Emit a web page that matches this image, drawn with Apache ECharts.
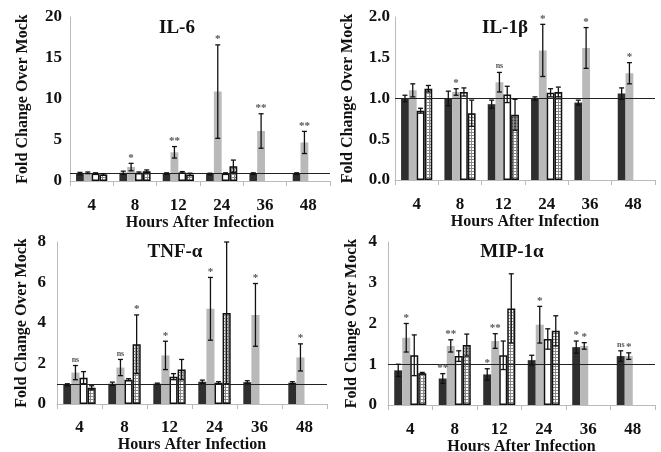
<!DOCTYPE html>
<html><head><meta charset="utf-8">
<script src="https://cdn.jsdelivr.net/npm/echarts@6/dist/echarts.min.js"></script>
<style>html,body{margin:0;padding:0;background:#fff}#c{width:661px;height:452px}</style>
</head><body><div id="c"></div>
<script>
const hours = ['4','8','12','24','36','48'];

// IL-6
const il6Black = [0.9, 1.0, 0.9, 0.85, 0.9, 0.9];
const il6BlackErr = [0.15, 0.2, 0.1, 0.1, 0.1, 0.1];
const il6Gray = [1.0, 1.7, 3.5, 10.9, 6.1, 4.7];
const il6GrayErr = [0.1, 0.45, 0.7, 5.7, 2.1, 1.35];
const il6White = [0.9, 1.0, 1.05, 0.9, null, null];
const il6WhiteErr = [0.1, 0.1, 0.1, 0.1, null, null];
const il6Hatch = [0.8, 1.2, 0.8, 1.8, null, null];
const il6HatchErr = [0.1, 0.15, 0.15, 0.75, null, null];
const il6GraySig = ['', '*', '**', '*', '**', '**'];

// IL-1beta
const il1Black = [1.0, 1.0, 0.93, 1.0, 0.95, 1.06];
const il1BlackErr = [0.04, 0.09, 0.05, 0.02, 0.03, 0.07];
const il1Gray = [1.10, 1.08, 1.20, 1.59, 1.62, 1.31];
const il1GrayErr = [0.08, 0.04, 0.12, 0.32, 0.25, 0.13];
const il1White = [0.85, 1.08, 1.05, 1.07, null, null];
const il1WhiteErr = [0.03, 0.05, 0.1, 0.05, null, null];
const il1Hatch = [1.12, 0.82, 0.80, 1.08, null, null];
const il1HatchErr = [0.04, 0.16, 0.19, 0.06, null, null];
const il1GraySig = ['', '*', 'ns', '*', '*', '*'];

// TNF-alpha
const tnfBlack = [0.95, 1.0, 1.0, 1.1, 1.08, 1.05];
const tnfBlackErr = [0.05, 0.08, 0.03, 0.08, 0.07, 0.05];
const tnfGray = [1.55, 1.8, 2.4, 4.7, 4.4, 2.3];
const tnfGrayErr = [0.35, 0.4, 0.7, 1.55, 1.55, 0.67];
const tnfWhite = [1.3, 1.2, 1.35, 1.05, null, null];
const tnfWhiteErr = [0.3, 0.05, 0.15, 0.05, null, null];
const tnfHatch = [0.8, 2.95, 1.7, 4.5, null, null];
const tnfHatchErr = [0.1, 1.45, 0.5, 3.5, null, null];
const tnfGraySig = ['ns', 'ns', '*', '*', '*', '*'];
const tnfHatchSig = ['', '*', '', '', '', ''];

// MIP-1alpha
const mipBlack = [0.85, 0.65, 0.75, 1.1, 1.42, 1.2];
const mipBlackErr = [0.15, 0.12, 0.14, 0.12, 0.15, 0.13];
const mipGray = [1.65, 1.45, 1.57, 1.97, 1.45, 1.2];
const mipGrayErr = [0.35, 0.15, 0.18, 0.45, 0.08, 0.08];
const mipWhite = [1.22, 1.2, 1.22, 1.62, null, null];
const mipWhiteErr = [0.5, 0.13, 0.35, 0.25, null, null];
const mipHatch = [0.78, 1.47, 2.37, 1.82, null, null];
const mipHatchErr = [0.02, 0.27, 0.85, 0.37, null, null];
const mipBlackSig = ['', '**', '*', '', '*', 'ns'];
const mipGraySig = ['*', '**', '**', '*', '*', '*'];

const yTicks = [
  {min: 0, max: 20, interval: 5},
  {min: 0, max: 2, interval: 0.5},
  {min: 0, max: 8, interval: 2},
  {min: 0, max: 4, interval: 1}
];

const panels = [
  {title: 'IL-6', vals: [il6Black, il6Gray, il6White, il6Hatch], errs: [il6BlackErr, il6GrayErr, il6WhiteErr, il6HatchErr], sigs: [null, il6GraySig, null, null]},
  {title: 'IL-1β', vals: [il1Black, il1Gray, il1White, il1Hatch], errs: [il1BlackErr, il1GrayErr, il1WhiteErr, il1HatchErr], sigs: [null, il1GraySig, null, null]},
  {title: 'TNF-α', vals: [tnfBlack, tnfGray, tnfWhite, tnfHatch], errs: [tnfBlackErr, tnfGrayErr, tnfWhiteErr, tnfHatchErr], sigs: [null, tnfGraySig, null, tnfHatchSig]},
  {title: 'MIP-1α', vals: [mipBlack, mipGray, mipWhite, mipHatch], errs: [mipBlackErr, mipGrayErr, mipWhiteErr, mipHatchErr], sigs: [mipBlackSig, mipGraySig, null, null]}
];

// layout
const grids = [
  {left: 70, top: 17, width: 260, height: 164, outerBoundsMode: 'none', containLabel: false},
  {left: 395, top: 17, width: 260, height: 163, outerBoundsMode: 'none', containLabel: false},
  {left: 57, top: 242, width: 270, height: 162, outerBoundsMode: 'none', containLabel: false},
  {left: 388, top: 242, width: 267, height: 163, outerBoundsMode: 'none', containLabel: false}
];
const yNameGap = [39, 39, 27, 28];
const xNameGap = [31, 32, 26, 31];
const xLabelMargin = [16, 16, 15, 16];
const yLabelMargin = [8, 5, 11, 11];
const titlePos = [[172, 25], [500, 25], [170, 249], [507, 249]];

const FONT = '"Liberation Serif", "Times New Roman", serif';
const BAR_FRAC = 0.18;

// hatch pattern
const pc = document.createElement('canvas');
pc.width = 3; pc.height = 3;
const pctx = pc.getContext('2d');
pctx.fillStyle = '#ffffff'; pctx.fillRect(0, 0, 3, 3);
pctx.fillStyle = '#8a8a8a'; pctx.fillRect(0, 0, 3, 1); pctx.fillRect(0, 0, 1, 3);

const barStyles = [
  {color: '#2e2e2e'},
  {color: '#b9b9b9'},
  {color: '#ffffff', borderColor: '#111', borderWidth: 1.5},
  {color: {image: pc, repeat: 'repeat'}, borderColor: '#111', borderWidth: 1.5}
];

const option = {
  animation: false,
  backgroundColor: '#fff',
  title: panels.map((p, i) => ({
    text: p.title, left: titlePos[i][0], top: titlePos[i][1] - 11,
    textAlign: 'center',
    textStyle: {fontFamily: FONT, fontWeight: 'bold', fontSize: 19, color: '#111'}
  })),
  grid: grids,
  xAxis: grids.map((g, i) => ({
    type: 'category', gridIndex: i, data: hours,
    name: 'Hours After Infection', nameLocation: 'middle', nameGap: xNameGap[i],
    nameTextStyle: {fontFamily: FONT, fontWeight: 'bold', fontSize: 16, color: '#111', verticalAlign: 'top'},
    axisLine: {lineStyle: {color: '#bbbbbb', width: 1}},
    axisTick: {show: true, length: 5, lineStyle: {color: '#bbbbbb'}},
    axisLabel: {fontFamily: FONT, fontWeight: 'bold', fontSize: 17, color: '#111', margin: xLabelMargin[i]}
  })),
  yAxis: grids.map((g, i) => ({
    type: 'value', gridIndex: i,
    min: yTicks[i].min, max: yTicks[i].max, interval: yTicks[i].interval,
    name: 'Fold Change Over Mock', nameLocation: 'middle', nameGap: yNameGap[i],
    nameTextStyle: {fontFamily: FONT, fontWeight: 'bold', fontSize: 16, color: '#111'},
    axisLine: {show: true, lineStyle: {color: '#bbbbbb', width: 1}},
    axisTick: {show: false},
    splitLine: {show: false},
    axisLabel: {fontFamily: FONT, fontWeight: 'bold', fontSize: 17, color: '#111', margin: yLabelMargin[i],
      formatter: i === 1 ? (v => v.toFixed(1)) : (v => String(v))}
  })),
  series: []
};

panels.forEach((p, pi) => {
  p.vals.forEach((arr, si) => {
    const s = {
      type: 'bar', xAxisIndex: pi, yAxisIndex: pi,
      data: arr, barWidth: (BAR_FRAC * 100) + '%', barGap: '0%',
      itemStyle: barStyles[si], z: 2
    };
    if (si === 0) {
      s.markLine = {
        silent: true, symbol: 'none', label: {show: false},
        lineStyle: {color: '#222', width: 1.2, type: 'solid'},
        data: [{yAxis: 1}], z: 5
      };
    }
    option.series.push(s);
  });
  const errData = [];
  p.vals.forEach((arr, si) => {
    arr.forEach((v, ci) => {
      if (v == null) return;
      const e = p.errs[si][ci];
      const sig = p.sigs[si] ? p.sigs[si][ci] : '';
      errData.push([ci, v - e, v + e, si, sig]);
    });
  });
  option.series.push({
    type: 'custom', xAxisIndex: pi, yAxisIndex: pi, z: 6,
    data: errData,
    encode: {x: 0, y: [1, 2]},
    renderItem: function (params, api) {
      const ci = api.value(0), lo = api.value(1), hi = api.value(2), si = api.value(3);
      const sig = errData[params.dataIndex][4];
      const band = api.size([1, 0])[0];
      const bw = band * BAR_FRAC;
      const cx = api.coord([ci, 0])[0] + (si - 1.5) * bw;
      const yLo = api.coord([ci, lo])[1];
      const yHi = api.coord([ci, hi])[1];
      const cap = 2.5;
      const st = {stroke: '#111', lineWidth: 1.3};
      const children = [
        {type: 'line', shape: {x1: cx, y1: yLo, x2: cx, y2: yHi}, style: st},
        {type: 'line', shape: {x1: cx - cap, y1: yHi, x2: cx + cap, y2: yHi}, style: st},
        {type: 'line', shape: {x1: cx - cap, y1: yLo, x2: cx + cap, y2: yLo}, style: st}
      ];
      if (sig) {
        children.push({
          type: 'text',
          style: {
            text: sig, x: cx, y: yHi - (sig === 'ns' ? 2 : 0),
            textAlign: 'center', textVerticalAlign: 'bottom',
            font: (sig === 'ns' ? 'bold 8px ' : 'bold 11px ') + FONT,
            fill: '#555'
          }
        });
      }
      return {type: 'group', children: children};
    }
  });
});

const chart = echarts.init(document.getElementById('c'), null, {renderer: 'canvas'});
chart.setOption(option);
</script>
</body></html>
